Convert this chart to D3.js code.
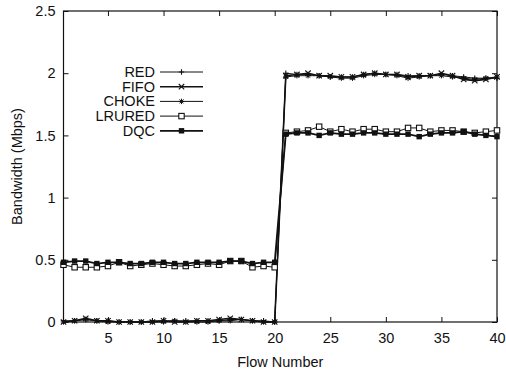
<!DOCTYPE html>
<html>
<head>
<meta charset="utf-8">
<script src="https://cdn.jsdelivr.net/npm/d3@7"></script>
<style>
  body { margin: 0; background: #fff; }
  text { font-family: "Liberation Sans", Arial, sans-serif; fill: #111; }
</style>
</head>
<body>
<svg id="chart" width="506" height="373"></svg>
<script>
// flow index on the x axis
const flows = [1,2,3,4,5,6,7,8,9,10,11,12,13,14,15,16,17,18,19,20,
               21,22,23,24,25,26,27,28,29,30,31,32,33,34,35,36,37,38,39,40];

const red = [0.01,0.01,0.02,0.01,0.01,0.00,0.00,0.00,0.01,0.01,0.01,0.01,0.01,0.01,0.01,0.02,0.02,0.01,0.01,0.00,
             2.00,1.99,1.99,1.98,1.97,1.97,1.97,1.99,2.00,1.99,1.99,1.98,1.98,1.98,1.99,1.98,1.97,1.96,1.96,1.96];
const fifo = [0.00,0.01,0.03,0.01,0.01,0.00,0.00,0.00,0.00,0.01,0.00,0.00,0.01,0.01,0.02,0.03,0.02,0.01,0.00,0.00,
              1.98,1.99,2.00,1.98,1.98,1.97,1.97,1.99,2.00,1.99,1.99,1.97,1.98,1.98,2.00,1.98,1.95,1.94,1.95,1.97];
const choke = [0.00,0.01,0.02,0.01,0.00,0.00,0.00,0.00,0.00,0.00,0.01,0.00,0.00,0.00,0.01,0.01,0.02,0.01,0.00,0.00,
               1.97,1.98,1.98,1.98,1.97,1.96,1.96,1.98,1.99,1.99,1.98,1.96,1.97,1.98,1.98,1.97,1.96,1.95,1.96,1.97];
const lrured = [0.46,0.44,0.44,0.44,0.45,0.48,0.45,0.46,0.47,0.46,0.45,0.45,0.46,0.47,0.46,0.49,0.49,0.44,0.45,0.44,
                1.52,1.53,1.54,1.57,1.53,1.55,1.53,1.55,1.55,1.53,1.53,1.56,1.56,1.53,1.54,1.54,1.53,1.52,1.53,1.54];
const dqc = [0.48,0.49,0.49,0.47,0.48,0.48,0.47,0.47,0.48,0.48,0.47,0.47,0.48,0.48,0.48,0.49,0.49,0.47,0.48,0.48,
             1.51,1.52,1.52,1.50,1.52,1.51,1.51,1.52,1.52,1.51,1.51,1.51,1.49,1.51,1.52,1.52,1.53,1.51,1.50,1.49];

const seriesNames = ["RED", "FIFO", "CHOKE", "LRURED", "DQC"];
const xTicks = [5, 10, 15, 20, 25, 30, 35, 40];
const yTicks = [0, 0.5, 1, 1.5, 2, 2.5];

const series = [
  { name: "RED", values: red, mark: "plus", width: 1 },
  { name: "FIFO", values: fifo, mark: "cross", width: 1.6 },
  { name: "CHOKE", values: choke, mark: "star", width: 1 },
  { name: "LRURED", values: lrured, mark: "open", width: 1 },
  { name: "DQC", values: dqc, mark: "filled", width: 1.8 }
];

const svg = d3.select("#chart");
const plotLeft = 63.5, plotRight = 497, plotTop = 11, plotBottom = 322;
const fontSize = 14.5;

const x = d3.scaleLinear().domain([1, 40]).range([plotLeft, plotRight]);
const y = d3.scaleLinear().domain([0, 2.5]).range([plotBottom, plotTop]);

// gnuplot-like point symbols
function drawMark(g, type, cx, cy) {
  const s = 2.7;
  if (type === "plus") {
    g.append("path").attr("d", `M${cx - s},${cy}H${cx + s}M${cx},${cy - s}V${cy + s}`)
      .attr("stroke", "#111").attr("stroke-width", 1.1);
  } else if (type === "cross") {
    g.append("path").attr("d", `M${cx - s},${cy - s}L${cx + s},${cy + s}M${cx - s},${cy + s}L${cx + s},${cy - s}`)
      .attr("stroke", "#111").attr("stroke-width", 1.1);
  } else if (type === "star") {
    g.append("path").attr("d", `M${cx - s},${cy}H${cx + s}M${cx},${cy - s}V${cy + s}M${cx - 2},${cy - 2}L${cx + 2},${cy + 2}M${cx - 2},${cy + 2}L${cx + 2},${cy - 2}`)
      .attr("stroke", "#111").attr("stroke-width", 1);
  } else if (type === "open") {
    g.append("rect").attr("x", cx - s).attr("y", cy - s).attr("width", 2 * s).attr("height", 2 * s)
      .attr("fill", "#fff").attr("stroke", "#111").attr("stroke-width", 1.1);
  } else {
    g.append("rect").attr("x", cx - s).attr("y", cy - s).attr("width", 2 * s).attr("height", 2 * s)
      .attr("fill", "#111");
  }
}

// frame
svg.append("rect")
  .attr("x", plotLeft).attr("y", plotTop)
  .attr("width", plotRight - plotLeft).attr("height", plotBottom - plotTop)
  .attr("fill", "none").attr("stroke", "#111").attr("stroke-width", 1.2);

// inward mirrored ticks
const tickLen = 5;
const xAxis = svg.append("g").attr("transform", `translate(0,${plotBottom})`)
  .call(d3.axisBottom(x).tickValues(xTicks).tickSize(-tickLen).tickPadding(11).tickFormat(d3.format("d")));
const xTop = svg.append("g").attr("transform", `translate(0,${plotTop})`)
  .call(d3.axisTop(x).tickValues(xTicks).tickSize(-tickLen).tickFormat(""));
const yAxis = svg.append("g").attr("transform", `translate(${plotLeft},0)`)
  .call(d3.axisLeft(y).tickValues(yTicks).tickSize(-tickLen).tickPadding(8).tickFormat(d => d));
const yRight = svg.append("g").attr("transform", `translate(${plotRight},0)`)
  .call(d3.axisRight(y).tickValues(yTicks).tickSize(-tickLen).tickFormat(""));

[xAxis, xTop, yAxis, yRight].forEach(a => {
  a.select(".domain").remove();
  a.selectAll(".tick line").attr("stroke", "#111");
  a.selectAll(".tick text").attr("font-size", fontSize).attr("fill", "#111")
    .attr("font-family", "Liberation Sans, Arial, sans-serif");
});

// axis titles
svg.append("text")
  .attr("x", (plotLeft + plotRight) / 2).attr("y", 367)
  .attr("text-anchor", "middle").attr("font-size", fontSize)
  .text("Flow Number");
svg.append("text")
  .attr("transform", `translate(22,${(plotTop + plotBottom) / 2}) rotate(-90)`)
  .attr("text-anchor", "middle").attr("font-size", fontSize)
  .text("Bandwidth (Mbps)");

// lines and points
const line = d3.line().x((d, i) => x(flows[i])).y(d => y(d));
series.forEach(s => {
  const g = svg.append("g");
  g.append("path")
    .attr("d", line(s.values))
    .attr("fill", "none").attr("stroke", "#111")
    .attr("stroke-width", s.width);
  s.values.forEach((v, i) => drawMark(g, s.mark, x(flows[i]), y(v)));
});

// legend
const legend = svg.append("g");
seriesNames.forEach((name, i) => {
  const s = series[i];
  const ly = 72 + i * 14.7;
  legend.append("text")
    .attr("x", 155).attr("y", ly + 5)
    .attr("text-anchor", "end").attr("font-size", fontSize)
    .text(name);
  legend.append("line")
    .attr("x1", 160).attr("x2", 203).attr("y1", ly).attr("y2", ly)
    .attr("stroke", "#111").attr("stroke-width", s.width);
  drawMark(legend, s.mark, 181.5, ly);
});
</script>
</body>
</html>
